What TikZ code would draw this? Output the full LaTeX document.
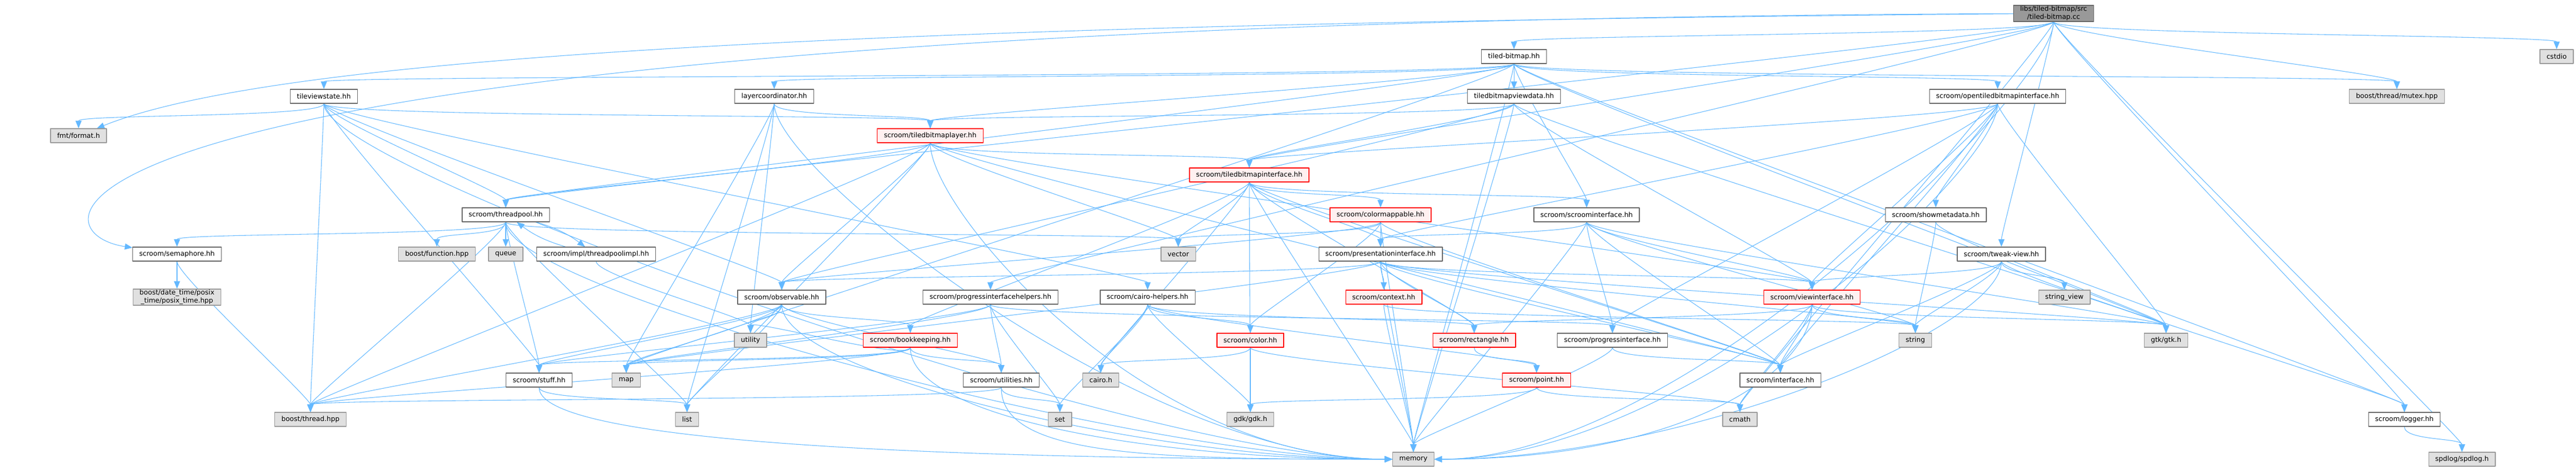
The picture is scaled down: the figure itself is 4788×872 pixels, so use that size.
\documentclass[tikz,border=0pt]{standalone}
\usepackage{fontspec}
\setmainfont{DejaVu Sans}
\usetikzlibrary{arrows.meta}
\definecolor{depblue}{HTML}{63B8FF}
\pgfdeclarelayer{bg}
\pgfsetlayers{bg,main}
\tikzset{
	hdr/.style={draw=black!60, fill=white, line width=1pt, inner xsep=9.2pt, inner ysep=1pt,
		minimum height=19.5pt, font=\fontsize{9.4}{11.2}\selectfont, align=center},
	ext/.style={hdr, draw=black!40, fill=black!12},
	trunc/.style={hdr, draw=red, fill=red!6},
	root/.style={hdr, draw=black!60, fill=black!40},
	dep/.style={->, draw=depblue, line width=0.8pt},
}
\begin{document}
\begin{tikzpicture}[line join=round, line cap=round, >={Triangle[length=10.5pt,width=8.5pt]}, x=0.75pt, y=-0.75pt]
	\useasboundingbox (0,0) rectangle (4788,872);
	% rank 0-2
	\node[root] (cc) at (3817,25) {libs/tiled-bitmap/src\\/tiled-bitmap.cc};
	\node[hdr] (tb) at (2814,105) {tiled-bitmap.hh};
	\node[ext] (cstdio) at (4752,105) {cstdio};
	\node[hdr] (tvs) at (602,179) {tileviewstate.hh};
	\node[hdr] (lc) at (1439,179) {layercoordinator.hh};
	\node[hdr] (tbvd) at (2814,179) {tiledbitmapviewdata.hh};
	\node[hdr] (otbi) at (3713,179) {scroom/opentiledbitmapinterface.hh};
	\node[ext] (mutex) at (4455,179) {boost/thread/mutex.hpp};
	% rank 3-5
	\node[ext] (fmt) at (146,252) {fmt/format.h};
	\node[trunc] (tbl) at (1729,252) {scroom/tiledbitmaplayer.hh};
	\node[trunc] (tbi) at (2322,325) {scroom/tiledbitmapinterface.hh};
	\node[hdr] (tp) at (940,399) {scroom/threadpool.hh};
	\node[trunc] (cm) at (2566,399) {scroom/colormappable.hh};
	\node[hdr] (si) at (2949,399) {scroom/scroominterface.hh};
	\node[hdr] (smd) at (3598,399) {scroom/showmetadata.hh};
	% rank 6
	\node[hdr] (sem) at (329,472) {scroom/semaphore.hh};
	\node[ext] (func) at (812,472) {boost/function.hpp};
	\node[ext] (queue) at (940,472) {queue};
	\node[hdr] (tpi) at (1108,472) {scroom/impl/threadpoolimpl.hh};
	\node[ext] (vector) at (2190,472) {vector};
	\node[hdr] (pi) at (2566,472) {scroom/presentationinterface.hh};
	\node[hdr] (tv) at (3720,472) {scroom/tweak-view.hh};
	% rank 7
	\node[ext] (posix) at (329,552) {boost/date\_time/posix\\\_time/posix\_time.hpp};
	\node[hdr] (obs) at (1453,552) {scroom/observable.hh};
	\node[hdr] (pih) at (1841,552) {scroom/progressinterfacehelpers.hh};
	\node[hdr] (ch) at (2133,552) {scroom/cairo-helpers.hh};
	\node[trunc] (ctx) at (2572,552) {scroom/context.hh};
	\node[trunc] (vi) at (3368,552) {scroom/viewinterface.hh};
	\node[ext] (sv) at (3837,552) {string\_view};
	% rank 8
	\node[ext] (utility) at (1395,632) {utility};
	\node[trunc] (bk) at (1692,632) {scroom/bookkeeping.hh};
	\node[trunc] (color) at (2324,632) {scroom/color.hh};
	\node[trunc] (rect) at (2740,632) {scroom/rectangle.hh};
	\node[hdr] (pri) at (2997,632) {scroom/progressinterface.hh};
	\node[ext] (string) at (3560,632) {string};
	\node[ext] (gtk) at (4026,632) {gtk/gtk.h};
	% rank 9
	\node[hdr] (stuff) at (1002,706) {scroom/stuff.hh};
	\node[ext] (map) at (1164,706) {map};
	\node[hdr] (util) at (1861,706) {scroom/utilities.hh};
	\node[ext] (cairo) at (2046,706) {cairo.h};
	\node[trunc] (point) at (2856,706) {scroom/point.hh};
	\node[hdr] (intf) at (3309,706) {scroom/interface.hh};
	% rank 10-11
	\node[ext] (bthread) at (577,779) {boost/thread.hpp};
	\node[ext] (list) at (1277,779) {list};
	\node[ext] (set) at (1970,779) {set};
	\node[ext] (gdk) at (2324,779) {gdk/gdk.h};
	\node[ext] (cmath) at (3234,779) {cmath};
	\node[hdr] (logger) at (4469,779) {scroom/logger.hh};
	\node[ext] (memory) at (2627,853) {memory};
	\node[ext] (spdlog) at (4576,853) {spdlog/spdlog.h};

	\begin{pgfonlayer}{bg}
		% includes, drawn from top to bottom
		\foreach \s/\t in {cc/tb, cc/cstdio, cc/mutex, cc/spdlog, cc/tv, cc/logger, cc/tp, cc/tbi, cc/pih, cc/cmath,
			tb/tvs, tb/lc, tb/tbvd, tb/si, tb/mutex, tb/tbl, tb/otbi, tb/tp, tb/map, tb/memory, tb/gtk, tb/logger,
			tvs/fmt, tvs/bthread, tvs/stuff, tvs/tp, tvs/obs, tvs/tbl, tvs/ch,
			lc/tbl, lc/map, lc/list, lc/utility,
			tbvd/tbl, tbvd/tbi, tbvd/vi, tbvd/gtk, tbvd/memory, tbvd/obs,
			otbi/tbi, otbi/smd, otbi/pi, otbi/pri, otbi/vi, otbi/gtk, otbi/intf,
			tbl/tbi, tbl/vector, tbl/obs, tbl/tp, tbl/bthread, tbl/vi, tbl/intf, tbl/list,
			tbi/vector, tbi/gdk, tbi/cairo, tbi/cm, tbi/si, tbi/pi, tbi/rect, tbi/intf, tbi/memory, tbi/bk,
			tp/func, tp/queue, tp/sem, tp/stuff, tp/bthread, tp/vector, tp/list,
			tpi/utility,
			cm/pi, cm/color, cm/obs, cm/vector, cm/memory, cm/intf,
			si/pi, si/memory, si/gtk, si/vi, si/intf, si/pri, si/string,
			smd/string, smd/gtk,
			pi/ctx, pi/rect, pi/memory, pi/gtk, pi/vi, pi/obs, pi/map, pi/string, pi/intf,
			tv/sv, tv/string, tv/intf, tv/vi, tv/logger,
			sem/posix, sem/bthread,
			obs/utility, obs/list, obs/map, obs/stuff, obs/bk, obs/util, obs/bthread,
			pih/util, pih/set, pih/pri, pih/map, pih/stuff,
			ch/cairo, ch/gdk, ch/color, ch/rect, ch/point, ch/set,
			ctx/memory, ctx/string,
			vi/string, vi/intf, vi/cmath, vi/gtk, vi/rect,
			bk/util, bk/map, bk/stuff, bk/bthread, bk/utility,
			color/cairo, color/gdk, color/cmath,
			rect/point, pri/memory, pri/intf,
			stuff/list, util/set, util/bthread,
			point/gdk, point/cmath, logger/spdlog}
		{
			\draw[dep] (\s) .. controls +(0,40) and +(0,-40) .. (\t);
		}
		% into memory from the left and from the right
		\foreach \s in {tvs, lc, tbl, tp, obs, bk, stuff, util}
		{
			\draw[dep] (\s) .. controls +(0,140) and +(-500,0) .. (memory);
		}
		\foreach \s in {otbi, vi, tv, cc}
		{
			\draw[dep] (\s) .. controls +(0,140) and +(500,0) .. (memory);
		}
		\draw[dep] (cc) .. controls (1500,45) and (500,110) .. (fmt);
		\draw[dep] (cc) .. controls (0,40) and (40,430) .. (sem);
		\draw[dep] (tp) to[bend left=10] (tpi);
		\draw[dep] (tpi) to[bend left=10] (tp);
	\end{pgfonlayer}
\end{tikzpicture}
\end{document}
